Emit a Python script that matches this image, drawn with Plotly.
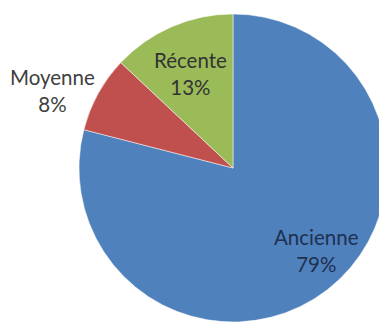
import plotly.graph_objects as go

# Slice data
categories = ["Ancienne", "Moyenne", "Récente"]
percents = [79, 8, 13]
slice_colors = ["#4F81BD", "#C0504D", "#9BBB59"]
text_colors = ["#1F3050", "#404040", "#333333"]

# page body has an 8px default margin, so the figure fills the rest of the window
OFF = 8
W, H = 387 - OFF, 324 - OFF

# label block centres in window pixels
label_pos = [(316, 250), (52, 90), (190, 73)]

fig = go.Figure()

fig.add_trace(go.Pie(
    labels=categories,
    values=percents,
    sort=False,
    direction="clockwise",
    rotation=0,
    marker=dict(colors=slice_colors, line=dict(color="#FFFFFF", width=0.5)),
    textinfo="none",
    hoverinfo="label+percent",
    showlegend=False,
    domain=dict(x=[71 / W, 1], y=[2 / H, 1 - 6 / H]),
))

for name, pct, col, (px, py) in zip(categories, percents, text_colors, label_pos):
    fig.add_annotation(
        x=(px - OFF) / W, y=1 - (py - OFF) / H, xref="paper", yref="paper",
        text=f"{name}<br>{pct}%", showarrow=False,
        xanchor="center", yanchor="middle", align="center",
        font=dict(family="Lato, sans-serif", size=20.5, color=col),
    )

fig.update_layout(
    width=W,
    height=H,
    margin=dict(l=0, r=0, t=0, b=0),
    paper_bgcolor="white",
    plot_bgcolor="white",
)

fig.write_html("out.html")
